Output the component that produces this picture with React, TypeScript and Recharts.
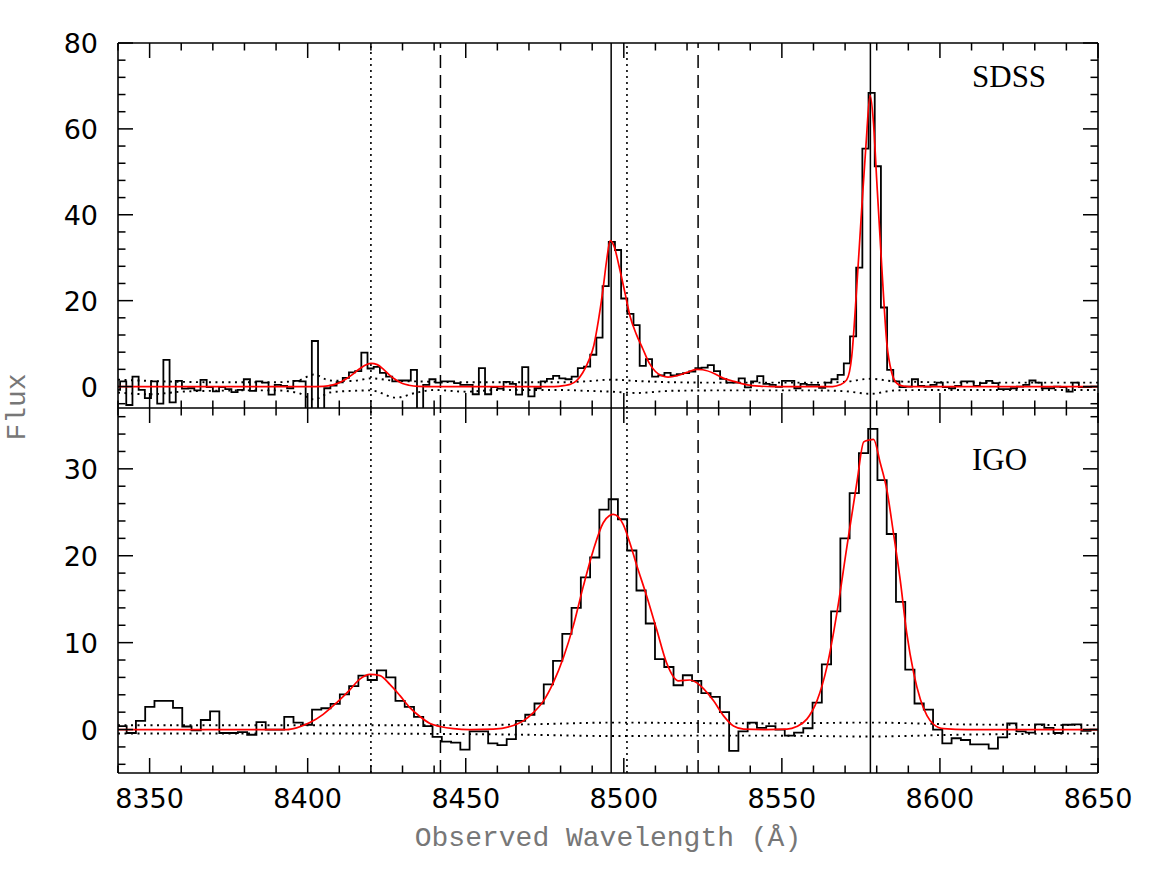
import React from 'react'
import { LineChart, Line, XAxis, YAxis, ReferenceLine } from 'recharts'

// SDSS spectrum, ~1.96 A bins (centres start + i * width)
const sdssStart = 8339.68
const sdssWidth = 1.9567
const sdssFlux = [
  -0.8, 1.2, -4.3, 2.3, -0.8, -2.7, 1.2, -4.0, 6.2, -3.7, 1.3, -0.5, -0.4, -0.9, 1.55, -0.15,
  -1.15, -0.15, -0.6, -1.3, -0.8, 1.7, -1.0, 1.2, 0.9, -1.9, 0.4, 0.15, -0.4, 1.3, 1.2, -5.5,
  10.6, -5.5, -0.4, 0.2, 1.0, 2.0, 3.3, 3.6, 7.9, 4.2, 4.6, 3.2, 2.3, 1.2, 1.4, 1.4,
  3.9, -5.5, 0.4, 1.7, 0.9, 1.2, 1.2, 0.8, 0.4, 0.4, -1.8, 4.3, -1.8, -0.15, -0.5, 1.1,
  0.6, -1.9, 4.5, -2.3, -0.4, 1.2, 1.8, 2.5, 1.9, 1.7, 2.3, 4.3, 4.65, 7.4, 11.4, 23.4,
  33.7, 31.8, 20.5, 16.9, 14.3, 4.8, 6.4, 2.3, 2.6, 3.2, 2.6, 2.9, 3.1, 3.5, 4.3, 4.4,
  5.0, 3.6, 1.8, 0.9, 0.9, 1.9, -0.2, 1.2, 2.4, 0.6, 0.4, -0.1, 1.3, 1.3, -0.4, 0.6,
  0.4, 0.4, -0.3, 0.9, 1.7, 2.7, 5.4, 11.7, 27.7, 55.4, 68.4, 51.3, 18.4, 3.9, 1.2, -0.15,
  0, 1.7, 0.15, 0, 0.4, 0.9, -0.15, -0.4, 0.15, 1.2, 1.2, 0.15, 0.8, 1.3, 0.8, -0.6,
  -0.6, -0.4, 0, 0.4, 1.4, 0.9, -0.4, -0.4, 0, -0.15, -1.2, 0.9, -0.15, -0.15, 0, 0,
]

const sdssFitX = [
  8340, 8400, 8405, 8408, 8410, 8412, 8414, 8416, 8418, 8420, 8422, 8424, 8426, 8428, 8430, 8432,
  8435, 8440, 8478, 8481, 8483, 8485, 8487, 8489, 8490.5, 8492, 8493.4, 8494.5, 8495.7, 8497,
  8498.5, 8500.4, 8502, 8504, 8506, 8508, 8510, 8512, 8514, 8516.8, 8520, 8523, 8525, 8528.4,
  8531.6, 8534.8, 8539, 8543, 8547, 8566, 8568.4, 8570.5, 8572.1, 8573.7, 8575.3, 8576.6,
  8577.9, 8579, 8580, 8581.6, 8583.2, 8584.8, 8586.3, 8588, 8590, 8650,
]
const sdssFitY = [
  0, 0, 0.05, 0.4, 0.9, 1.7, 2.7, 3.9, 4.9, 5.4, 5.1, 4.0, 2.6, 1.5, 0.7, 0.3,
  0.05, 0, 0, 0.2, 0.5, 1.3, 3.2, 6.2, 9.5, 15.5, 22.5, 29, 34, 32.5,
  28, 21.7, 16.3, 12.1, 8.8, 5.5, 3.5, 2.5, 2.2, 2.5, 3.3, 4.0, 3.9, 3.1,
  1.9, 1.2, 0.4, 0.1, 0, 0, 0.4, 1.55, 7.0, 23.3, 41.9, 56.2,
  67.8, 61.2, 48.1, 27.9, 10.1, 3.1, 0.8, 0.15, 0, 0,
]

const sdssErrX = [
  8340, 8350, 8360, 8370, 8380, 8390, 8397, 8402, 8407, 8414, 8420, 8428, 8434, 8440, 8450, 8460,
  8470, 8480, 8488, 8496, 8504, 8515, 8530, 8545, 8560, 8570, 8578, 8586, 8600, 8620, 8650,
]
const sdssErrUp = [
  1.6, 1.3, 1.1, 1.0, 1.0, 1.0, 1.4, 2.8, 1.4, 1.3, 1.9, 1.3, 1.2, 1.1, 1.0, 1.0,
  1.0, 1.0, 1.2, 1.6, 1.3, 1.0, 0.9, 0.9, 0.9, 1.1, 1.8, 1.2, 1.0, 0.9, 0.9,
]
const sdssErrLo = [
  -1.4, -1.8, -1.2, -1.0, -0.9, -0.9, -1.5, -3.0, -1.4, -1.0, -0.9, -2.6, -1.5, -0.8, -1.2, -0.8,
  -0.8, -0.8, -1.0, -1.2, -1.5, -1.0, -0.9, -0.9, -0.9, -1.1, -1.7, -0.9, -0.8, -0.8, -0.8,
]

// IGO spectrum, ~2.93 A bins
const igoStart = 8338.34
const igoWidth = 2.932
const igoFlux = [
  0.4, 0.4, -0.4, 1.0, 2.6, 3.3, 3.3, 2.5, 0.35, -0.1, 1.1, 2.1, -0.4, -0.4, -0.3, -0.6,
  0.85, 0.0, 0.0, 1.45, 0.8, 0.55, 2.3, 2.45, 2.95, 4.05, 5.0, 6.2, 5.7, 6.8, 6.0, 3.3,
  2.6, 1.45, 0.4, -0.85, -1.4, -1.5, -2.3, -0.2, -0.2, -1.6, -1.8, -1.1, 1.0, 1.7, 3.0, 5.2,
  7.9, 11.0, 14.0, 17.5, 19.8, 25.3, 26.5, 24.2, 20.6, 16.0, 12.2, 8.1, 7.2, 5.1, 6.25, 5.6,
  4.2, 3.75, 2.0, -2.45, -0.2, 0.8, 0.2, 0.4, 0.0, -0.7, -0.35, 0.15, 3.1, 7.5, 13.6, 22.0,
  27.2, 31.8, 34.6, 28.7, 22.5, 14.7, 6.9, 3.0, 2.3, 0.0, -1.6, -1.0, -1.2, -1.7, -1.7, -2.2,
  -0.9, 0.7, -0.2, -0.35, 0.6, 0.2, -0.4, 0.55, 0.6, -0.15, 0.0, 0.0,
]

const igoFitX = [
  8340, 8393.4, 8396.5, 8400.7, 8404.9, 8409.2, 8413.4, 8416.5, 8419.7, 8422.9, 8426, 8429.2,
  8432.4, 8435.5, 8438.7, 8441.9, 8446.1, 8451.3, 8458.7, 8464, 8468.2, 8471.4, 8474.6, 8477.7,
  8480.9, 8484, 8487.2, 8490.4, 8493.5, 8495.4, 8496.7, 8499.8, 8501.9, 8504, 8507.2, 8510.4,
  8513.5, 8517.3, 8520.9, 8523, 8525.2, 8528.4, 8531.5, 8534.7, 8537.9, 8545.3, 8551.6, 8554.7,
  8557.9, 8561.1, 8564.3, 8567.4, 8570.6, 8573.8, 8575.9, 8577.5, 8579, 8581.1, 8583.2, 8585.3,
  8587.4, 8589.5, 8591.7, 8593.8, 8595.9, 8598, 8601.2, 8608.6, 8650,
]
const igoFitY = [
  0, 0, 0.2, 0.8, 1.75, 3.1, 4.6, 5.8, 6.35, 6.2, 5.2, 3.9,
  2.5, 1.5, 0.7, 0.35, 0.1, 0, 0.05, 0.35, 1.0, 1.95, 3.3, 5.4,
  8.3, 11.9, 16.5, 20.7, 23.8, 24.6, 24.75, 23.6, 21.5, 19.0, 15.4, 11.5,
  7.7, 5.6, 5.7, 5.4, 4.7, 3.3, 1.6, 0.4, 0.05, 0, 0.05, 0.35,
  1.2, 3.3, 7.3, 13.4, 21.1, 28.6, 33.1, 33.3, 33.4, 30.7, 27.6, 22.6,
  17.3, 11.1, 6.5, 3.5, 1.6, 0.6, 0.1, 0, 0,
]

const igoErrX = [8340, 8400, 8440, 8470, 8497, 8520, 8545, 8578, 8605, 8650]
const igoErrUp = [0.5, 0.5, 0.5, 0.6, 0.8, 0.75, 0.7, 0.8, 0.6, 0.5]
const igoErrLo = [-0.45, -0.45, -0.5, -0.6, -0.75, -0.7, -0.7, -0.8, -0.6, -0.45]

// line markers: solid, dashed, dotted
const solidLines = [8496, 8578]
const dashedLines = [8442, 8523.5]
const dottedLines = [8420, 8501]

const X_MIN = 8340
const X_MAX = 8650
const xTicks = Array.from({ length: 32 }, (_, i) => 8340 + i * 10)
const topYTicks = Array.from({ length: 22 }, (_, i) => -4 + i * 4)
const botYTicks = Array.from({ length: 21 }, (_, i) => -4 + i * 2)

const PLOT_W = 980
const PLOT_H = 365

const pts = (xs: number[], ys: number[]) => xs.map((x, i) => ({ x, y: ys[i] }))
const bins = (start: number, w: number, ys: number[]) => ys.map((y, i) => ({ x: start + i * w, y }))

const sdssHist = bins(sdssStart, sdssWidth, sdssFlux)
const igoHist = bins(igoStart, igoWidth, igoFlux)

const NUM_FONT = 'DejaVu Sans, sans-serif'

const xLabel = (show: boolean) => (props: any) => {
  const { x, y, payload } = props
  const v = payload.value
  if (!show || v % 50 !== 0) return <g />
  return (
    <text x={x} y={y + 35} textAnchor="middle" fontSize={27} fontFamily={NUM_FONT} fill="#000">
      {v}
    </text>
  )
}

const yLabel = (step: number) => (props: any) => {
  const { x, y, payload } = props
  const v = payload.value
  if (v % step !== 0) return <g />
  return (
    <text x={x - 20} y={y + 10} textAnchor="end" fontSize={27} fontFamily={NUM_FONT} fill="#000">
      {v}
    </text>
  )
}

type Seg = [{ x: number; y: number }, { x: number; y: number }]

function Panel(props: {
  height: number
  margin: { top: number; right: number; bottom: number; left: number }
  yDomain: [number, number]
  yTicks: number[]
  majorStep: number
  hist: { x: number; y: number }[]
  fit: { x: number; y: number }[]
  errUp: { x: number; y: number }[]
  errLo: { x: number; y: number }[]
  bottomHeight: number
  bottomLabels: boolean
}) {
  const ax = { xAxisId: 'b', yAxisId: 'l' }
  const [y0, y1] = props.yDomain
  const perX = PLOT_W / (X_MAX - X_MIN)
  const perY = PLOT_H / (y1 - y0)

  // inward tick marks on all four sides
  const segs: Seg[] = []
  xTicks.forEach((v) => {
    const L = (v % 50 === 0 ? 15 : 7.5) / perY
    segs.push([{ x: v, y: y0 }, { x: v, y: y0 + L }])
    segs.push([{ x: v, y: y1 }, { x: v, y: y1 - L }])
  })
  props.yTicks.forEach((v) => {
    const L = (v % props.majorStep === 0 ? 15 : 7.5) / perX
    segs.push([{ x: X_MIN, y: v }, { x: X_MIN + L, y: v }])
    segs.push([{ x: X_MAX, y: v }, { x: X_MAX - L, y: v }])
  })

  return (
    <LineChart width={1167} height={props.height} margin={props.margin}>
      <XAxis
        xAxisId="b"
        type="number"
        dataKey="x"
        domain={[X_MIN, X_MAX]}
        allowDataOverflow
        ticks={xTicks}
        interval={0}
        tickSize={0}
        tickMargin={0}
        tickLine={false}
        axisLine={false}
        height={props.bottomHeight}
        tick={xLabel(props.bottomLabels)}
      />
      <YAxis
        yAxisId="l"
        type="number"
        domain={props.yDomain}
        allowDataOverflow
        ticks={props.yTicks}
        interval={0}
        tickSize={0}
        tickMargin={0}
        tickLine={false}
        axisLine={false}
        width={118}
        tick={yLabel(props.majorStep)}
      />
      {solidLines.map((v) => (
        <ReferenceLine key={'s' + v} x={v} {...ax} stroke="#000" strokeWidth={1.5} />
      ))}
      {dashedLines.map((v) => (
        <ReferenceLine key={'d' + v} x={v} {...ax} stroke="#000" strokeWidth={1.5} strokeDasharray="13 7" />
      ))}
      {dottedLines.map((v) => (
        <ReferenceLine key={'o' + v} x={v} {...ax} stroke="#000" strokeWidth={1.6} strokeDasharray="2 4" />
      ))}
      <Line {...ax} data={props.errUp} dataKey="y" type="monotone" stroke="#000" strokeWidth={1.9}
        strokeDasharray="2 4.5" dot={false} isAnimationActive={false} />
      <Line {...ax} data={props.errLo} dataKey="y" type="monotone" stroke="#000" strokeWidth={1.9}
        strokeDasharray="2 4.5" dot={false} isAnimationActive={false} />
      <Line {...ax} data={props.hist} dataKey="y" type="step" stroke="#000" strokeWidth={1.8}
        dot={false} isAnimationActive={false} />
      <Line {...ax} data={props.fit} dataKey="y" type="monotone" stroke="#ff0000" strokeWidth={1.7}
        dot={false} isAnimationActive={false} />
      {segs.map((s, i) => (
        <ReferenceLine key={'t' + i} segment={s} {...ax} stroke="#000" strokeWidth={1.5} ifOverflow="visible" />
      ))}
      <ReferenceLine x={X_MIN} {...ax} stroke="#000" strokeWidth={1.6} ifOverflow="visible" />
      <ReferenceLine x={X_MAX} {...ax} stroke="#000" strokeWidth={1.6} ifOverflow="visible" />
      <ReferenceLine y={y0} {...ax} stroke="#000" strokeWidth={1.6} ifOverflow="visible" />
      <ReferenceLine y={y1} {...ax} stroke="#000" strokeWidth={1.6} ifOverflow="visible" />
    </LineChart>
  )
}

export default function App() {
  return (
    <div style={{ position: 'absolute', left: 0, top: 0, width: 1167, height: 872, background: '#fff' }}>
      <div style={{ position: 'absolute', left: 0, top: 0 }}>
        <Panel
          height={408}
          margin={{ top: 43, right: 69, bottom: 0, left: 0 }}
          yDomain={[-5, 80]}
          yTicks={topYTicks}
          majorStep={20}
          hist={sdssHist}
          fit={pts(sdssFitX, sdssFitY)}
          errUp={pts(sdssErrX, sdssErrUp)}
          errLo={pts(sdssErrX, sdssErrLo)}
          bottomHeight={0}
          bottomLabels={false}
        />
      </div>
      <div style={{ position: 'absolute', left: 0, top: 408 }}>
        <Panel
          height={464}
          margin={{ top: 0, right: 69, bottom: 39, left: 0 }}
          yDomain={[-5, 37]}
          yTicks={botYTicks}
          majorStep={10}
          hist={igoHist}
          fit={pts(igoFitX, igoFitY)}
          errUp={pts(igoErrX, igoErrUp)}
          errLo={pts(igoErrX, igoErrLo)}
          bottomHeight={60}
          bottomLabels={true}
        />
      </div>
      <svg width={1167} height={872} style={{ position: 'absolute', left: 0, top: 0, pointerEvents: 'none' }}>
        <text x={972} y={87} fontSize={31} fontFamily="Liberation Serif, serif" fill="#000">SDSS</text>
        <text x={972} y={470} fontSize={31} fontFamily="Liberation Serif, serif" fill="#000">IGO</text>
        <text x={608} y={846} textAnchor="middle" fontSize={28} fontFamily="Liberation Mono, monospace" fill="#777">
          Observed Wavelength (Å)
        </text>
        <text x={25} y={407} transform="rotate(-90 25 407)" textAnchor="middle" fontSize={28}
          fontFamily="Liberation Mono, monospace" fill="#777">
          Flux
        </text>
      </svg>
    </div>
  )
}
